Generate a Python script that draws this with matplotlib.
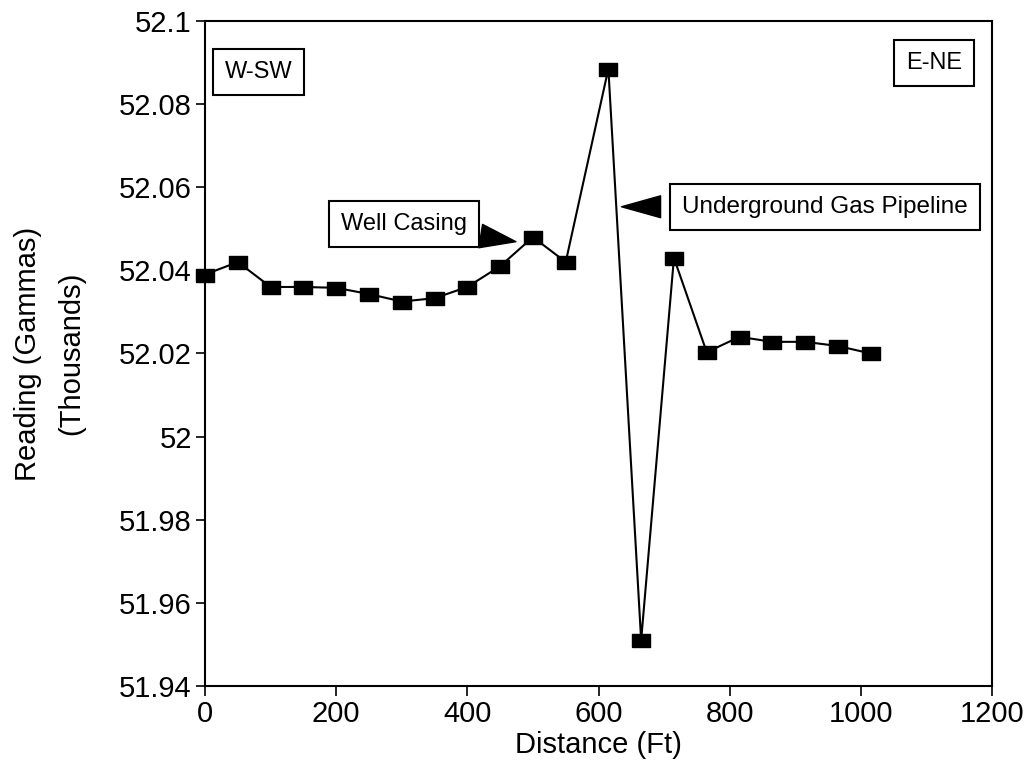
import matplotlib
matplotlib.use("Agg")
import matplotlib.pyplot as plt

plt.rcParams['font.family'] = ['Liberation Sans', 'DejaVu Sans']

distance = [0, 50, 100, 150, 200, 250, 300, 350, 400, 450, 500, 550,
            615, 665, 715, 765, 815, 865, 915, 965, 1015]
reading = [52.039, 52.042, 52.036, 52.036, 52.0358, 52.0343, 52.0325, 52.0333,
           52.036, 52.041, 52.048, 52.042, 52.0885, 51.951, 52.043, 52.0203,
           52.024, 52.0228, 52.0228, 52.0218, 52.020]

xticks = [0, 200, 400, 600, 800, 1000, 1200]
yticks = [51.94, 51.96, 51.98, 52.0, 52.02, 52.04, 52.06, 52.08, 52.1]
ytick_labels = ['51.94', '51.96', '51.98', '52', '52.02', '52.04', '52.06', '52.08', '52.1']

fig = plt.figure(figsize=(10.33, 7.6), dpi=100)
ax = fig.add_axes([0.1985, 0.0974, 0.7618, 0.875])

rect = [(-1, -0.72), (1, -0.72), (1, 0.72), (-1, 0.72), (-1, -0.72)]
ax.plot(distance, reading, color='black', lw=1.5, marker=rect, markersize=13,
        markerfacecolor='black', markeredgecolor='black', clip_on=False, zorder=3)

ax.set_xlim(0, 1200)
ax.set_ylim(51.94, 52.1)
ax.set_xticks(xticks)
ax.set_xticklabels([str(t) for t in xticks])
ax.set_yticks(yticks)
ax.set_yticklabels(ytick_labels)
ax.tick_params(axis='x', direction='out', length=7, width=1.2, labelsize=21, pad=3)
ax.tick_params(axis='y', direction='out', length=6.5, width=1.2, labelsize=21, pad=3)
for s in ax.spines.values():
    s.set_linewidth(1.5)

ax.set_xlabel('Distance (Ft)', fontsize=21, labelpad=2)
ax.set_ylabel('Reading (Gammas)\n(Thousands)', fontsize=21, labelpad=24, linespacing=1.7)

box = dict(boxstyle='square,pad=0.5', fc='white', ec='black', lw=1.5)
ax.text(0.0254, 0.923, 'W-SW', transform=ax.transAxes, fontsize=17,
        ha='left', va='center', bbox=box)
ax.text(0.962, 0.937, 'E-NE', transform=ax.transAxes, fontsize=17,
        ha='right', va='center', bbox=box)

ax.annotate('Well Casing', xy=(474, 52.0469), xytext=(207, 52.0512),
            fontsize=17, ha='left', va='center', bbox=box,
            arrowprops=dict(arrowstyle='wedge,tail_width=1.0', fc='black', ec='black',
                            shrinkA=1, shrinkB=0))
ax.annotate('Underground Gas Pipeline', xy=(635, 52.0553), xytext=(727, 52.0553),
            fontsize=17.5, ha='left', va='center', bbox=box,
            arrowprops=dict(arrowstyle='wedge,tail_width=0.9', fc='black', ec='black',
                            shrinkA=6, shrinkB=0))

fig.savefig('out.png', dpi=100)
